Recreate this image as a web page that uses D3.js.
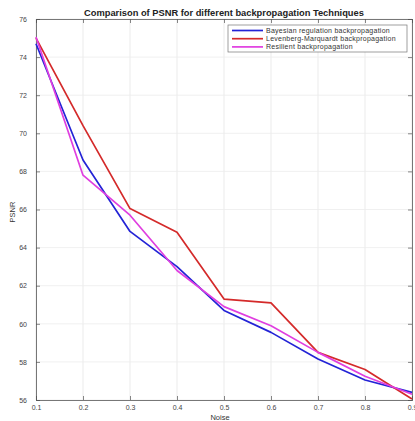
<!DOCTYPE html>
<html>
<head>
<meta charset="utf-8">
<script src="https://cdn.jsdelivr.net/npm/d3@7"></script>
<style>
  body { margin: 0; background: #fff; }
  svg { display: block; font-family: "Liberation Sans", Arial, sans-serif; }
</style>
</head>
<body>
<div class="chart"></div>
<script>
var noise = [0.1, 0.2, 0.3, 0.4, 0.5, 0.6, 0.7, 0.8, 0.9],
  bayesian = [74.7, 68.6, 64.85, 63.0, 60.7, 59.55, 58.15, 57.05, 56.4],
  levenberg = [75.0, 70.4, 66.05, 64.8, 61.3, 61.1, 58.5, 57.6, 56.05],
  resilient = [75.05, 67.8, 65.7, 62.8, 60.9, 59.9, 58.5, 57.25, 56.3],
  seriesNames = ['Bayesian regulation backpropagation', 'Levenberg-Marquardt backpropagation', 'Resilient backpropagation'],
  colors = ['#2323d6', '#d42a2a', '#e03ee0'],
  yTicks = [56, 58, 60, 62, 64, 66, 68, 70, 72, 74, 76];

var w = 415, h = 421,
  margin = { top: 19, right: 3, bottom: 21, left: 36 },
  iw = w - margin.left - margin.right,
  ih = h - margin.top - margin.bottom;

var svg = d3.select('.chart')
  .append('svg')
  .attr('width', w)
  .attr('height', h);

var x = d3.scaleLinear().domain([0.1, 0.9]).range([0, iw]);
var y = d3.scaleLinear().domain([56, 76]).range([ih, 0]);

var g = svg.append('g')
  .attr('transform', 'translate(' + margin.left + ',' + margin.top + ')');

// grid
g.selectAll('.gx')
  .data(noise)
  .enter()
  .append('line')
  .attr('x1', d => x(d)).attr('x2', d => x(d))
  .attr('y1', 0).attr('y2', ih)
  .attr('stroke', '#e6e6e6').attr('stroke-width', 0.8);

g.selectAll('.gy')
  .data(yTicks)
  .enter()
  .append('line')
  .attr('y1', d => y(d)).attr('y2', d => y(d))
  .attr('x1', 0).attr('x2', iw)
  .attr('stroke', '#ececec').attr('stroke-width', 0.8);

// axes
g.append('g')
  .attr('transform', 'translate(0,' + ih + ')')
  .call(d3.axisBottom(x).tickValues(noise).tickSize(-4).tickPadding(5).tickFormat(d3.format('.1f')));
g.append('g')
  .call(d3.axisLeft(y).tickValues(yTicks).tickSize(-4).tickPadding(9).tickFormat(d3.format('d')));
g.append('g')
  .call(d3.axisTop(x).tickValues(noise).tickSize(-4).tickFormat(''));
g.append('g')
  .attr('transform', 'translate(' + iw + ',0)')
  .call(d3.axisRight(y).tickValues(yTicks).tickSize(-4).tickFormat(''));

svg.selectAll('.domain').attr('stroke', '#555').attr('stroke-width', 0.8);
svg.selectAll('.tick line').attr('stroke', '#555').attr('stroke-width', 0.7);
svg.selectAll('.tick text').attr('fill', '#444').attr('font-size', '7px');

// lines
var line = d3.line()
  .x((d, i) => x(noise[i]))
  .y(d => y(d));

[bayesian, levenberg, resilient].forEach(function (s, i) {
  g.append('path')
    .datum(s)
    .attr('d', line)
    .attr('fill', 'none')
    .attr('stroke', colors[i])
    .attr('stroke-width', 1.7)
    .attr('stroke-linejoin', 'round');
});

// title and labels
svg.append('text')
  .attr('x', 224).attr('y', 16)
  .attr('text-anchor', 'middle')
  .attr('font-size', '9.3px')
  .attr('font-weight', 'bold')
  .attr('fill', '#222')
  .text('Comparison of PSNR for different backpropagation Techniques');

svg.append('text')
  .attr('x', 220).attr('y', 420)
  .attr('text-anchor', 'middle')
  .attr('font-size', '7.5px')
  .attr('fill', '#333')
  .text('Noise');

svg.append('text')
  .attr('transform', 'translate(15,212) rotate(-90)')
  .attr('text-anchor', 'middle')
  .attr('font-size', '7.5px')
  .attr('fill', '#333')
  .text('PSNR');

// legend
var lg = svg.append('g').attr('transform', 'translate(228,25)');
lg.append('rect')
  .attr('width', 179).attr('height', 27)
  .attr('fill', '#fff')
  .attr('stroke', '#777').attr('stroke-width', 0.7);
seriesNames.forEach(function (n, i) {
  var yy = 5.5 + i * 8.2;
  lg.append('line')
    .attr('x1', 4).attr('x2', 35)
    .attr('y1', yy).attr('y2', yy)
    .attr('stroke', colors[i]).attr('stroke-width', 1.7);
  lg.append('text')
    .attr('x', 38).attr('y', yy + 2.4)
    .attr('font-size', '7px')
    .attr('letter-spacing', '0.25px')
    .attr('fill', '#333')
    .text(n);
});
</script>
</body>
</html>
